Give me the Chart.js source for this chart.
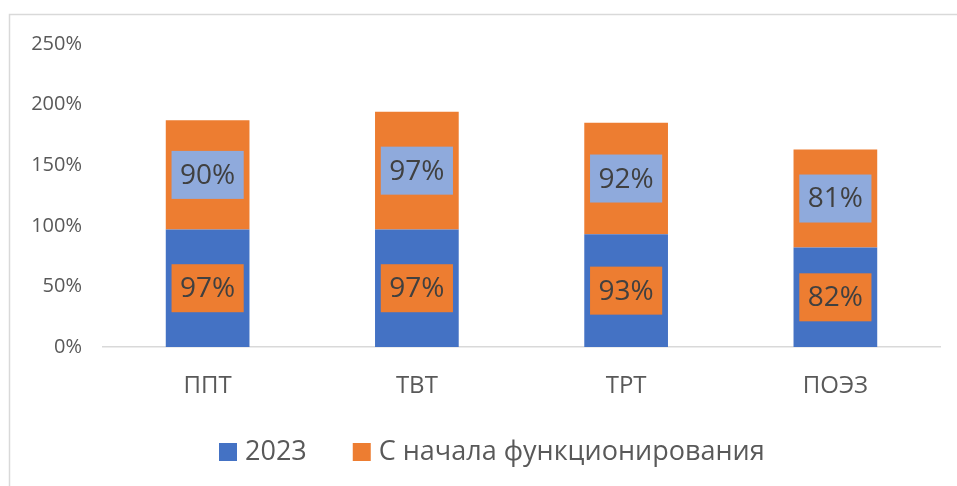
<!DOCTYPE html>
<html>
<head>
<meta charset="utf-8">
<script src="https://cdn.jsdelivr.net/npm/chart.js@4"></script>
<style>
  html, body { margin: 0; padding: 0; background: #fff; }
  #wrap { width: 957px; height: 486px; position: relative; }
</style>
</head>
<body>
<div id="wrap"><canvas id="c" width="957" height="486"></canvas></div>
<script>
const categories = ['ППТ', 'ТВТ', 'ТРТ', 'ПОЭЗ'];
const series2023 = [97, 97, 93, 82];
const seriesSinceStart = [90, 97, 92, 81];
const seriesNames = ['2023', 'С начала функционирования'];
const yTicks = [0, 50, 100, 150, 200, 250];

const FONT = '"Open Sans", "DejaVu Sans", sans-serif';
const BLUE = '#4472C4';
const ORANGE = '#ED7D31';
const LIGHTBLUE = '#8FAADC';
const TEXT = '#595959';

const framePlugin = {
  id: 'frame',
  beforeDraw(chart) {
    const ctx = chart.ctx;
    ctx.save();
    ctx.fillStyle = '#fff';
    ctx.fillRect(0, 0, chart.width, chart.height);
    ctx.strokeStyle = '#D9D9D9';
    ctx.lineWidth = 1.5;
    ctx.beginPath();
    ctx.moveTo(9.5, chart.height);
    ctx.lineTo(9.5, 14.5);
    ctx.lineTo(chart.width, 14.5);
    ctx.stroke();
    ctx.restore();
  }
};

const labelPlugin = {
  id: 'boxLabels',
  afterDatasetsDraw(chart) {
    const ctx = chart.ctx;
    ctx.save();
    ctx.font = '28px ' + FONT;
    ctx.textAlign = 'center';
    ctx.textBaseline = 'middle';
    chart.data.datasets.forEach((ds, di) => {
      const meta = chart.getDatasetMeta(di);
      meta.data.forEach((bar, i) => {
        const txt = ds.data[i] + '%';
        const cy = (bar.y + bar.base) / 2;
        const w = ctx.measureText(txt).width + 17;
        const h = 48;
        ctx.fillStyle = ds.labelBg;
        ctx.fillRect(bar.x - w / 2, cy - h / 2, w, h);
        ctx.fillStyle = '#404040';
        ctx.fillText(txt, bar.x, cy + 1);
      });
    });
    ctx.restore();
  }
};

const legendPlugin = {
  id: 'customLegend',
  afterDraw(chart) {
    const ctx = chart.ctx;
    ctx.save();
    ctx.font = '27px ' + FONT;
    ctx.textBaseline = 'middle';
    ctx.textAlign = 'left';
    const cy = 452;
    const box = 18, gapBox = 8, gapItem = 46;
    const items = chart.data.datasets.map(d => ({ label: d.label, color: d.backgroundColor }));
    let x = 219;
    items.forEach(it => {
      const tw = ctx.measureText(it.label).width;
      ctx.fillStyle = it.color;
      ctx.fillRect(x, cy - box / 2, box, box);
      ctx.fillStyle = TEXT;
      ctx.fillText(it.label, x + box + gapBox, cy);
      x += box + gapBox + tw + gapItem;
    });
    ctx.restore();
  }
};

new Chart(document.getElementById('c'), {
  type: 'bar',
  data: {
    labels: categories,
    datasets: [
      { label: seriesNames[0], data: series2023, backgroundColor: BLUE, labelBg: ORANGE },
      { label: seriesNames[1], data: seriesSinceStart, backgroundColor: ORANGE, labelBg: LIGHTBLUE }
    ]
  },
  options: {
    responsive: false,
    animation: false,
    devicePixelRatio: 1,
    layout: { padding: { left: 0, right: 17, top: 44, bottom: 89 } },
    datasets: { bar: { categoryPercentage: 1.0, barPercentage: 0.4 } },
    plugins: {
      legend: { display: false },
      tooltip: { enabled: false }
    },
    scales: {
      x: {
        stacked: true,
        grid: { display: false, drawTicks: false },
        border: { display: true, color: '#D9D9D9', width: 1.5 },
        ticks: { color: TEXT, font: { family: FONT, size: 24 }, padding: 25 },
        afterFit(scale) { scale.height = 50; }
      },
      y: {
        stacked: true,
        min: 0,
        max: 250,
        grid: { display: false, drawTicks: false },
        border: { display: false },
        afterBuildTicks(scale) { scale.ticks = yTicks.map(v => ({ value: v })); },
        ticks: {
          color: TEXT,
          font: { family: FONT, size: 20 },
          padding: 21,
          callback: v => v + '%'
        },
        afterFit(scale) { scale.width = 103; }
      }
    }
  },
  plugins: [framePlugin, labelPlugin, legendPlugin]
});
</script>
</body>
</html>
